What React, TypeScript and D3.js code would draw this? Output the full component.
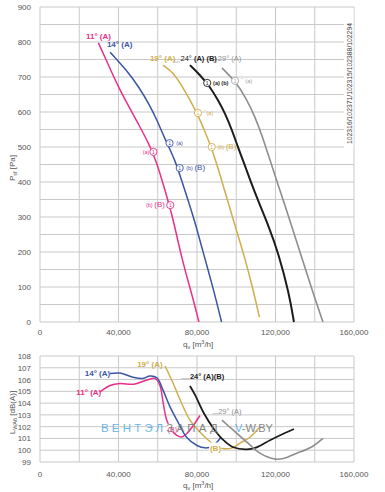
import React from 'react';
import * as d3 from 'd3';

type Pt = [number, number]; // [q m3/h, value]

// flow ticks shared by both charts
const qTicks = [0, 40000, 80000, 120000, 160000];
const qGrid = [0, 20000, 40000, 60000, 80000, 100000, 120000, 140000, 160000];
const pTicks = [0, 100, 200, 300, 400, 500, 600, 700, 800, 900];
const pGrid = d3.range(0, 901, 50);
const lTicks = [99, 100, 101, 102, 103, 104, 105, 106, 107, 108];

// pressure curves (Psf, Pa)
const press11: Pt[] = [[29700, 798], [34900, 734], [39900, 672], [45400, 614], [50400, 563], [55300, 511], [59100, 463], [63700, 377], [68000, 291], [72400, 177], [77200, 83], [81000, 0]];
const press14: Pt[] = [[35700, 771], [44100, 720], [50700, 669], [55800, 620], [59600, 577], [63400, 526], [68800, 463], [72100, 406], [75400, 349], [78700, 291], [82800, 206], [88900, 83], [92500, 0]];
const press19: Pt[] = [[62700, 734], [67800, 714], [72900, 669], [77200, 626], [80500, 591], [84100, 543], [87400, 497], [90200, 449], [92500, 406], [96100, 337], [99600, 271], [104700, 177], [109000, 83], [111800, 14]];
const press24: Pt[] = [[76400, 734], [81500, 706], [86600, 672], [90700, 634], [94300, 596], [97800, 549], [101400, 491], [103400, 463], [107000, 406], [111600, 340], [116700, 271], [121300, 200], [126900, 83], [129400, 0]];
const press29: Pt[] = [[92700, 726], [99400, 689], [105000, 640], [109600, 586], [113400, 529], [116700, 471], [120500, 406], [124600, 337], [128400, 271], [133800, 177], [139100, 83], [144200, 0]];

// sound power curves (LWA6, dB(A))
const sound11: Pt[] = [[30600, 104.95], [35700, 105.5], [40800, 105.67], [47600, 105.6], [54400, 105.96], [58600, 106.1], [61100, 105.5], [62800, 103.97], [64600, 102.55], [67100, 101.7], [69700, 101.27], [72200, 101.13], [74700, 101.4], [78100, 102.1], [81500, 102.95]];
const sound14: Pt[] = [[35700, 106.52], [40800, 106.55], [47400, 106.2], [52500, 106.1], [56000, 106.3], [59600, 106.15], [62700, 105.1], [66200, 103.7], [69800, 102.55], [74700, 101.1], [80000, 100.4], [84000, 100.2], [88000, 100.35], [92200, 101.1]];
const sound19: Pt[] = [[63700, 107.15], [67900, 105.67], [72200, 103.97], [76400, 102.55], [81500, 101.55], [85800, 100.85], [90000, 100.3], [94000, 100.12], [98000, 100.2], [101900, 100.6], [107000, 101.1], [111600, 101.9]];
const sound24: Pt[] = [[76400, 105.45], [79000, 104.7], [83300, 103.2], [88400, 101.85], [93500, 100.85], [98500, 100.25], [105300, 100.08], [110400, 100.25], [117200, 100.85], [124000, 101.4], [129400, 101.8]];
const sound29: Pt[] = [[92700, 102.55], [98500, 101.7], [105300, 100.7], [112000, 99.75], [119700, 99.25], [124000, 99.3], [130900, 99.74], [138600, 100.3], [144200, 101.0]];

const colors = { c11: '#e8308a', c14: '#3b55a5', c19: '#d2ad4c', c24: '#1c1c1c', c29: '#8e8e8e' };

const left = 40;
const right = 354;
const font = '"Liberation Sans", Arial, sans-serif';
const gridColor = '#c9c9c9';
const tickColor = '#555';

const xScale = d3.scaleLinear().domain([0, 160000]).range([left, right]);
const pScale = d3.scaleLinear().domain([0, 900]).range([322, 7]);
const lScale = d3.scaleLinear().domain([99, 108]).range([462, 356]);

const pLine = d3.line<Pt>().x((d) => xScale(d[0])).y((d) => pScale(d[1])).curve(d3.curveBasis);
const lLine = d3.line<Pt>().x((d) => xScale(d[0])).y((d) => lScale(d[1])).curve(d3.curveCatmullRom.alpha(0.5));

const Marker: React.FC<{ q: number; p: number; color: string }> = ({ q, p, color }) => (
  <g>
    <circle cx={xScale(q)} cy={pScale(p)} r={3.6} fill="#fff" stroke={color} strokeWidth={0.9} />
    <text x={xScale(q)} y={pScale(p) + 1.8} fontSize={5} textAnchor="middle" fill={color}>1</text>
  </g>
);

const FlowLabel: React.FC<{ y: number }> = ({ y }) => (
  <text x={xScale(80000) - 14} y={y} fontSize={8} fill={tickColor}>
    q<tspan fontSize={5.5} dy={2}>v</tspan><tspan dy={-2}> [m</tspan><tspan fontSize={5.5} dy={-3}>3</tspan><tspan dy={3}>/h]</tspan>
  </text>
);

export default function App() {
  const pressCurves: [Pt[], string, number][] = [
    [press11, colors.c11, 1.5],
    [press14, colors.c14, 1.5],
    [press19, colors.c19, 1.5],
    [press24, colors.c24, 2],
    [press29, colors.c29, 1.6],
  ];
  const soundCurves: [Pt[], string, number][] = [
    [sound11, colors.c11, 1.5],
    [sound14, colors.c14, 1.5],
    [sound19, colors.c19, 1.5],
    [sound24, colors.c24, 1.8],
    [sound29, colors.c29, 1.6],
  ];

  return (
    <svg width={385} height={492} style={{ position: 'absolute', left: 0, top: 0, fontFamily: font }}>
      <rect width={385} height={492} fill="#fff" />

      {/* top chart grid */}
      {pGrid.map((p) => (
        <line key={`pg-${p}`} x1={left} x2={right} y1={pScale(p)} y2={pScale(p)} stroke={gridColor} strokeWidth={1} />
      ))}
      {qGrid.map((q) => (
        <line key={`qg-${q}`} x1={xScale(q)} x2={xScale(q)} y1={pScale(900)} y2={pScale(0)} stroke={gridColor} strokeWidth={1} />
      ))}
      {pTicks.map((p) => (
        <text key={`pt-${p}`} x={31} y={pScale(p) + 3} fontSize={8} fill={tickColor} textAnchor="end">{p}</text>
      ))}
      {qTicks.map((q) => (
        <text key={`qt-${q}`} x={xScale(q)} y={335} fontSize={8} fill={tickColor} textAnchor="middle">{d3.format(',')(q)}</text>
      ))}
      <FlowLabel y={347} />
      <text transform={`translate(15,${pScale(440)}) rotate(-90)`} fontSize={8} fill={tickColor} textAnchor="middle">
        P<tspan fontSize={5.5} dy={2}>sf</tspan><tspan dy={-2}> [Pa]</tspan>
      </text>

      {/* code strip */}
      <rect x={344} y={8} width={9.5} height={140} fill="#fff" />
      <text transform="translate(351.5,144) rotate(-90)" fontSize={6.8} fill="#444">102316/102371/102315/102388/102294</text>

      {pressCurves.map(([pts, c, w], i) => (
        <path key={`pc-${i}`} d={pLine(pts) ?? ''} fill="none" stroke={c} strokeWidth={w} />
      ))}

      {/* curve labels top */}
      <text x={xScale(23400)} y={pScale(810)} fontSize={8} fill={colors.c11} fontWeight="bold">11° (A)</text>
      <text x={xScale(34100)} y={pScale(785)} fontSize={8} fill={colors.c14} fontWeight="bold">14° (A)</text>
      <text x={xScale(56000)} y={pScale(746)} fontSize={8} fill={colors.c19} fontWeight="bold">19° (A)</text>
      <line x1={xScale(68200)} x2={xScale(71400)} y1={pScale(743)} y2={pScale(743)} stroke="#999" strokeWidth={0.6} />
      <text x={xScale(71600)} y={pScale(746)} fontSize={7.5} fill={colors.c24}>24° <tspan fontWeight="bold">(A) (B)</tspan></text>
      <line x1={xScale(88000)} x2={xScale(90400)} y1={pScale(743)} y2={pScale(743)} stroke="#999" strokeWidth={0.6} />
      <text x={xScale(90600)} y={pScale(746)} fontSize={7.5} fill={colors.c29}>29° (A)</text>

      {/* markers */}
      <Marker q={57800} p={486} color={colors.c11} />
      <text x={xScale(52300)} y={pScale(481)} fontSize={5.5} fill={colors.c11}>(a)</text>
      <Marker q={66400} p={334} color={colors.c11} />
      <text x={xScale(54000)} y={pScale(328)} fontSize={5.5} fill={colors.c11}>(b) <tspan fontSize={8}>(B)</tspan></text>

      <Marker q={66000} p={511} color={colors.c14} />
      <text x={xScale(69400)} y={pScale(506)} fontSize={5.5} fill={colors.c14}>(a)</text>
      <Marker q={71200} p={440} color={colors.c14} />
      <text x={xScale(74500)} y={pScale(434)} fontSize={5.5} fill={colors.c14}>(b) <tspan fontSize={8}>(B)</tspan></text>

      <Marker q={80500} p={597} color={colors.c19} />
      <text x={xScale(83300)} y={pScale(592)} fontSize={5.5} fill={colors.c19}>¯(a)</text>
      <Marker q={87500} p={500} color={colors.c19} />
      <text x={xScale(90400)} y={pScale(494)} fontSize={5.5} fill={colors.c19}>(b) <tspan fontSize={8}>(B)</tspan></text>

      <Marker q={85200} p={683} color={colors.c24} />
      <text x={xScale(88200)} y={pScale(678)} fontSize={5.5} fill={colors.c24} fontWeight="bold">(a) (b)</text>

      <Marker q={99400} p={689} color="#a8a8a8" />
      <text x={xScale(102300)} y={pScale(684)} fontSize={5.5} fill="#a0a0a0">¯ (a)</text>

      {/* bottom chart grid */}
      {lTicks.map((l) => (
        <line key={`lg-${l}`} x1={left} x2={right} y1={lScale(l)} y2={lScale(l)} stroke={gridColor} strokeWidth={1} />
      ))}
      {qGrid.map((q) => (
        <line key={`qg2-${q}`} x1={xScale(q)} x2={xScale(q)} y1={lScale(108)} y2={lScale(99)} stroke={gridColor} strokeWidth={1} />
      ))}
      {lTicks.map((l) => (
        <text key={`lt-${l}`} x={31} y={lScale(l) + 3} fontSize={8} fill={tickColor} textAnchor="end">{l}</text>
      ))}
      {qTicks.map((q) => (
        <text key={`qt2-${q}`} x={xScale(q)} y={477} fontSize={8} fill={tickColor} textAnchor="middle">{d3.format(',')(q)}</text>
      ))}
      <FlowLabel y={488} />
      <text transform={`translate(15,${lScale(103.2)}) rotate(-90)`} fontSize={8} fill={tickColor} textAnchor="middle">
        L<tspan fontSize={5.5} dy={2}>WA6</tspan><tspan dy={-2}> [dB(A)]</tspan>
      </text>

      {soundCurves.map(([pts, c, w], i) => (
        <path key={`sc-${i}`} d={lLine(pts) ?? ''} fill="none" stroke={c} strokeWidth={w} />
      ))}

      {/* curve labels bottom */}
      <text x={xScale(22800)} y={lScale(106.3)} fontSize={8} fill={colors.c14} fontWeight="bold">14° (A)</text>
      <text x={xScale(18500)} y={lScale(104.7)} fontSize={8} fill={colors.c11} fontWeight="bold">11° (A)</text>
      <text x={xScale(49500)} y={lScale(107.1)} fontSize={8} fill={colors.c19} fontWeight="bold">19° (A)</text>
      <line x1={xScale(72000)} x2={xScale(76000)} y1={lScale(106.08)} y2={lScale(106.08)} stroke="#999" strokeWidth={0.6} />
      <text x={xScale(76400)} y={lScale(106.05)} fontSize={7.5} fill={colors.c24} fontWeight="bold">24° (A)(B)</text>
      <line x1={xScale(88000)} x2={xScale(90600)} y1={lScale(103.1)} y2={lScale(103.1)} stroke="#999" strokeWidth={0.6} />
      <text x={xScale(90800)} y={lScale(103.05)} fontSize={7.5} fill={colors.c29}>29° (A)</text>
      <rect x={xScale(64800)} y={lScale(102.25)} width={9} height={8} fill="#fff" />
      <text x={xScale(65100)} y={lScale(101.55)} fontSize={7} fill={colors.c11}>(B)</text>
      <rect x={xScale(86200)} y={lScale(100.65)} width={12} height={9} fill="#fff" />
      <text x={xScale(86600)} y={lScale(99.9)} fontSize={8} fill={colors.c19} fontWeight="bold">(B)</text>

      {/* watermark */}
      <text x={101} y={432} fontSize={11.5} letterSpacing={3.2} fill="#5aaee3" opacity={0.9}>ВЕНТЭЛ<tspan fill="#7a7a7a">ЗАПАД</tspan></text>
      <text x={235} y={432} fontSize={11} fill="#7a7a7a" opacity={0.9}><tspan fill="#5aaee3">V</tspan>-W.BY</text>
    </svg>
  );
}
